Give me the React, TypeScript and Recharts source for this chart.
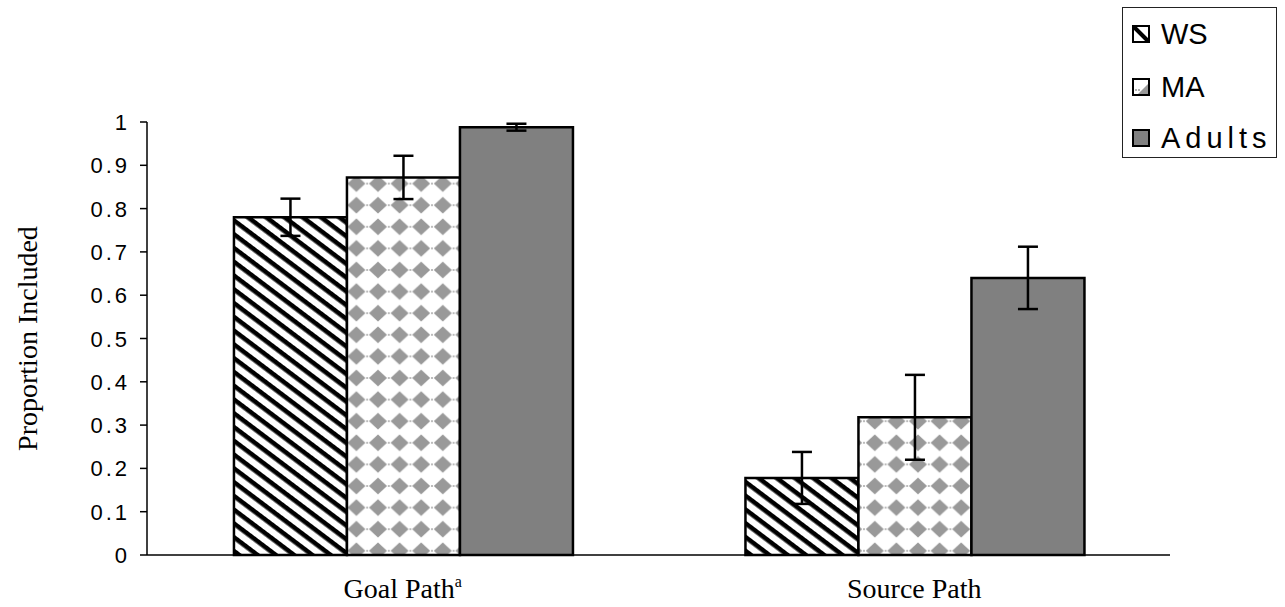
import React from 'react';
import { BarChart, Bar, XAxis, YAxis, ErrorBar, Legend } from 'recharts';

const categories = ['Goal Path', 'Source Path'];
const categorySuperscripts = ['a', ''];
const wsValues = [0.78, 0.178];
const wsErrors = [0.043, 0.06];
const maValues = [0.872, 0.318];
const maErrors = [0.05, 0.098];
const adultValues = [0.988, 0.64];
const adultErrors = [0.008, 0.072];
const seriesNames = ['WS', 'MA', 'Adults'];
const yTicks = [0, 0.1, 0.2, 0.3, 0.4, 0.5, 0.6, 0.7, 0.8, 0.9, 1];
const boundaryTicks = [0, 1, 2];

const data = categories.map((c, i) => ({
  category: c,
  sup: categorySuperscripts[i],
  ws: wsValues[i],
  wsErr: wsErrors[i],
  ma: maValues[i],
  maErr: maErrors[i],
  adults: adultValues[i],
  adultsErr: adultErrors[i],
}));

const SANS = '"Liberation Sans", Arial, sans-serif';
const SERIF = '"Liberation Serif", "Times New Roman", serif';

const YTick = (props: any) => {
  const { x, y, payload } = props;
  return (
    <text x={x} y={y + 8} textAnchor="end" fontFamily={SANS} fontSize={22} fill="#000" letterSpacing={3}>
      {String(payload.value)}
    </text>
  );
};

const XTick = (props: any) => {
  const { x, y, payload, index } = props;
  const sup = categorySuperscripts[index] || '';
  return (
    <text x={x} y={y + 43} textAnchor="middle" fontFamily={SERIF} fontSize={28} fill="#000">
      <tspan>{payload.value}</tspan>
      {sup ? (
        <tspan fontSize={16} dy={-11}>
          {sup}
        </tspan>
      ) : null}
    </text>
  );
};

const EmptyTick = () => <g />;

const legendCenters = [26, 79, 130];

const LegendIcon = ({ i }: { i: number }) => {
  if (i === 0) {
    return (
      <svg width={18} height={18}>
        <rect x={1} y={1} width={16} height={16} fill="#fff" stroke="#000" strokeWidth={2} />
        <line x1={2} y1={2} x2={16} y2={16} stroke="#000" strokeWidth={4} />
      </svg>
    );
  }
  if (i === 1) {
    return (
      <svg width={18} height={18}>
        <rect x={1} y={1} width={16} height={16} fill="#fff" stroke="#000" strokeWidth={2} />
        <polygon points="16,6 16,16 6,16" fill="#999" />
        <line x1={3} y1={12} x2={9} y2={12} stroke="#999" strokeWidth={1.5} strokeDasharray="2 1" />
      </svg>
    );
  }
  return (
    <svg width={18} height={18}>
      <rect x={1} y={1} width={16} height={16} fill="#808080" stroke="#000" strokeWidth={2} />
    </svg>
  );
};

const LegendBox = () => (
  <div
    style={{
      width: 155,
      height: 151,
      boxSizing: 'border-box',
      border: '1.5px solid #222',
      background: '#fff',
      position: 'relative',
      fontFamily: SANS,
      fontSize: 29,
      color: '#000',
    }}
  >
    {seriesNames.map((n, i) => (
      <div
        key={n}
        style={{
          position: 'absolute',
          left: 9,
          top: legendCenters[i] - 16,
          height: 32,
          display: 'flex',
          alignItems: 'center',
          whiteSpace: 'nowrap',
        }}
      >
        <LegendIcon i={i} />
        <span style={{ marginLeft: 11, letterSpacing: i === 2 ? 5 : 0, lineHeight: '32px' }}>{n}</span>
      </div>
    ))}
  </div>
);

export default function App() {
  return (
    <div style={{ position: 'absolute', left: 0, top: 0, width: 1285, height: 607, background: '#fff' }}>
      <BarChart
        width={1285}
        height={607}
        data={data}
        margin={{ top: 122, right: 115, left: 0, bottom: 0 }}
        barCategoryGap="17%"
        barGap={0}
      >
        <defs>
          <pattern
            id="wsStripes"
            patternUnits="userSpaceOnUse"
            width={10}
            height={11}
            patternTransform="rotate(37)"
          >
            <rect x={0} y={0} width={10} height={11} fill="#fff" />
            <rect x={0} y={0} width={10} height={4.6} fill="#000" />
          </pattern>
          <pattern id="maDiamonds" patternUnits="userSpaceOnUse" width={21.6} height={21.6}>
            <rect x={0} y={0} width={21.6} height={21.6} fill="#fff" />
            <polygon points="10.8,2.4 19.8,10.8 10.8,19.2 1.8,10.8" fill="#999" />
            <rect x={0} y={10} width={0.8} height={1.6} fill="#999" />
            <rect x={20.8} y={10} width={0.8} height={1.6} fill="#999" />
          </pattern>
        </defs>
        <XAxis
          xAxisId="bounds"
          type="number"
          domain={[0, 2]}
          ticks={boundaryTicks}
          allowDataOverflow
          height={0}
          tick={EmptyTick}
          tickSize={8}
          axisLine={false}
          tickLine={{ stroke: '#000', strokeWidth: 1.5 }}
        />
        <XAxis
          dataKey="category"
          height={52}
          tickLine={false}
          tickSize={0}
          tickMargin={0}
          axisLine={{ stroke: '#000', strokeWidth: 1.5 }}
          tick={XTick}
          interval={0}
        />
        <YAxis
          width={147}
          domain={[0, 1]}
          ticks={yTicks}
          interval={0}
          tickSize={7}
          tickMargin={10}
          axisLine={{ stroke: '#000', strokeWidth: 1.5 }}
          tickLine={{ stroke: '#000', strokeWidth: 1.5 }}
          tick={YTick}
          label={{
            value: 'Proportion Included',
            angle: -90,
            position: 'insideLeft',
            offset: 0,
            dx: 27,
            fontFamily: SERIF,
            fontSize: 28,
            fill: '#000',
            style: { textAnchor: 'middle' },
          }}
        />
        <Legend
          layout="horizontal"
          verticalAlign="middle"
          align="center"
          content={LegendBox}
          wrapperStyle={{ top: 7, left: 1122, width: 155, height: 151 }}
        />
        <Bar dataKey="ws" name={seriesNames[0]} fill="url(#wsStripes)" stroke="#000" strokeWidth={2.5} isAnimationActive={false}>
          <ErrorBar dataKey="wsErr" width={10} stroke="#000" strokeWidth={2.5} direction="y" />
        </Bar>
        <Bar dataKey="ma" name={seriesNames[1]} fill="url(#maDiamonds)" stroke="#000" strokeWidth={2.5} isAnimationActive={false}>
          <ErrorBar dataKey="maErr" width={10} stroke="#000" strokeWidth={2.5} direction="y" />
        </Bar>
        <Bar dataKey="adults" name={seriesNames[2]} fill="#808080" stroke="#000" strokeWidth={2.5} isAnimationActive={false}>
          <ErrorBar dataKey="adultsErr" width={10} stroke="#000" strokeWidth={2.5} direction="y" />
        </Bar>
      </BarChart>
    </div>
  );
}
